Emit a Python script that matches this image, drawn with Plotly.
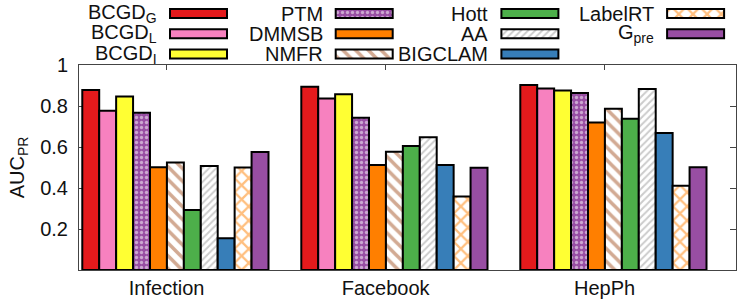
import plotly.graph_objects as go

# ---- data ----
datasets = ["Infection", "Facebook", "HepPh"]
methods = ["BCGD<sub>G</sub>", "BCGD<sub>L</sub>", "BCGD<sub>I</sub>", "PTM", "DMMSB", "NMFR",
           "Hott", "AA", "BIGCLAM", "LabelRT", "G<sub>pre</sub>"]
bcgd_g = [0.878, 0.894, 0.902]
bcgd_l = [0.777, 0.836, 0.885]
bcgd_i = [0.846, 0.857, 0.876]
ptm = [0.767, 0.743, 0.863]
dmmsb = [0.501, 0.512, 0.720]
nmfr = [0.525, 0.577, 0.787]
hott = [0.293, 0.605, 0.738]
aa = [0.507, 0.647, 0.883]
bigclam = [0.155, 0.512, 0.668]
labelrt = [0.500, 0.358, 0.411]
gpre = [0.576, 0.499, 0.501]
series = [bcgd_g, bcgd_l, bcgd_i, ptm, dmmsb, nmfr, hott, aa, bigclam, labelrt, gpre]
ytick_vals = [0.2, 0.4, 0.6, 0.8, 1.0]
ytick_text = ["0.2", "0.4", "0.6", "0.8", "1"]

# ---- styles ----
styles = [
    dict(color="#e41a1c"),
    dict(color="#f781bf"),
    dict(color="#ffff33"),
    dict(color="#984ea3", pattern=dict(shape=".", fgcolor="white", bgcolor="#984ea3", size=5, solidity=0.35)),
    dict(color="#ff7f00"),
    dict(color="white", pattern=dict(shape="\\", fgcolor="#a65628", bgcolor="white", size=9, solidity=0.4)),
    dict(color="#4daf4a"),
    dict(color="white", pattern=dict(shape="/", fgcolor="#999999", bgcolor="white", size=5, solidity=0.4)),
    dict(color="#377eb8"),
    dict(color="white", pattern=dict(shape="x", fgcolor="#ff7f00", bgcolor="white", size=10, solidity=0.4)),
    dict(color="#984ea3"),
]

FONT = "Liberation Sans, Arial, Helvetica, sans-serif"
FS = 20
W, H = 747, 307
fig = go.Figure()

bw = 0.0773
start = -0.385
xpos = list(range(len(datasets)))
for i, (name, vals, st) in enumerate(zip(methods, series, styles)):
    marker = dict(color=st["color"], line=dict(color="black", width=2))
    if "pattern" in st:
        marker["pattern"] = st["pattern"]
    fig.add_trace(go.Bar(x=xpos, y=vals, name=name, width=bw, offset=start + i * bw,
                         marker=marker, showlegend=False, xaxis="x", yaxis="y"))

# ---- custom legend (text on the left, swatch on the right) ----
sw_w, sw_h = 57, 9
for i, (name, st) in enumerate(zip(methods, styles)):
    col, row = i // 3, i % 3
    left = 170 + col * 165.7
    yc = 13.5 + row * 20.3
    marker = dict(color=st["color"], line=dict(color="black", width=2))
    if "pattern" in st:
        marker["pattern"] = st["pattern"]
    fig.add_trace(go.Bar(y=[yc], x=[sw_w], base=[left], orientation="h", width=sw_h,
                         marker=marker, showlegend=False, hoverinfo="skip",
                         xaxis="x2", yaxis="y2"))
    fig.add_annotation(x=left - 11, y=yc, xref="x2", yref="y2", text=name,
                       xanchor="right", yanchor="middle", showarrow=False,
                       font=dict(family=FONT, size=FS, color="#111"))

fig.update_layout(
    width=W, height=H,
    margin=dict(l=0, r=0, t=0, b=0),
    paper_bgcolor="white", plot_bgcolor="rgba(0,0,0,0)",
    barmode="overlay",
    font=dict(family=FONT, size=FS, color="#111"),
    xaxis=dict(domain=[79 / W, 736 / W], range=[-0.4, 2.6], tickvals=xpos, ticktext=datasets,
               showline=True, mirror="ticks", linecolor="#444", linewidth=1,
               ticks="inside", ticklen=5, tickcolor="#444", showgrid=False, zeroline=False,
               layer="below traces", automargin=False, ticklabelstandoff=0),
    yaxis=dict(domain=[1 - 270 / H, 1 - 65 / H], range=[0, 1], tickvals=ytick_vals, ticktext=ytick_text,
               showline=True, mirror="ticks", linecolor="#444", linewidth=1,
               ticks="inside", ticklen=6, tickcolor="#444", showgrid=False, zeroline=False,
               layer="below traces", automargin=False, ticklabelstandoff=6,
               title=dict(text="AUC<sub>PR</sub>", standoff=10, font=dict(family=FONT, size=FS))),
    xaxis2=dict(domain=[0, 1], range=[0, W], visible=False, anchor="y2", fixedrange=True),
    yaxis2=dict(domain=[0, 1], range=[H, 0], visible=False, anchor="x2", fixedrange=True),
)

fig.write_html("out.html", config={"displayModeBar": False},
               post_script="document.body.style.margin='0';document.body.style.overflow='hidden';")
